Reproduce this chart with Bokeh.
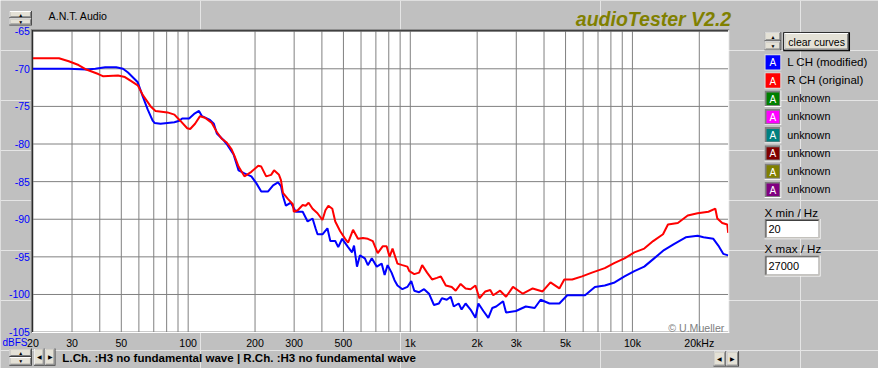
import math
from bokeh.plotting import figure
from bokeh.models import Label, BoxAnnotation, Range1d, LogScale
from bokeh.core.properties import value
from bokeh.embed import file_html
from bokeh.resources import INLINE

FONT = "Liberation Sans"

# ---------------- data ----------------
freq_l = [20, 29, 34.8, 38.2, 42.3, 47.4, 50.9, 53.6, 57.5, 59.3, 62.5, 65.7, 69.2, 70.6, 75.1,
          86.7, 91.2, 94, 101, 106.3, 111.9, 115.4, 125.3, 130.5, 134.6, 144.5, 149.1, 160.1,
          168.6, 179.2, 192.5, 202.6, 213.3, 229.1, 241.2, 253.8, 261.7, 267.1, 275.4, 289.9,
          305.1, 327.8, 345, 363.1, 374.4, 382.2, 402.3, 423.5, 436.5, 459.4, 473.8, 493.5,
          524.8, 546.8, 558.1, 575.4, 593.3, 624.6, 644.1, 671, 706.2, 743.3, 766.5, 790.4,
          823.5, 849, 875.5, 921.2, 969.8, 1010, 1042, 1096, 1154, 1214, 1278, 1345, 1388,
          1460, 1521, 1569, 1651, 1702, 1774, 1867, 1965, 2026, 2133, 2245, 2338, 2436, 2617,
          2698, 2990, 3311, 3631, 3861, 4233, 4690, 5090, 5524, 6120, 6778, 7509, 8318, 9213,
          10205, 11306, 12524, 13874, 15373, 17378, 19652, 20893, 23141, 24359, 25631, 26990]
db_l = [-70.0, -70.0, -70.1, -70.0, -69.8, -69.8, -70.0, -70.5, -71.4, -71.8, -73.7, -75.4, -76.9,
        -77.2, -77.3, -77.1, -76.9, -76.6, -76.6, -76.0, -75.6, -76.3, -76.8, -77.3, -78.6, -79.5,
        -80.0, -81.4, -83.5, -83.9, -84.3, -85.2, -86.3, -86.3, -85.5, -85.1, -85.6, -86.9, -88.2,
        -87.8, -89.0, -89.0, -90.3, -89.9, -91.2, -92.0, -92.0, -91.2, -92.9, -92.9, -93.7, -92.6,
        -93.7, -94.4, -93.5, -96.3, -94.8, -95.2, -96.1, -95.2, -96.3, -95.9, -97.4, -96.1, -97.1,
        -98.1, -98.8, -99.3, -99.0, -98.2, -99.5, -99.7, -99.3, -99.9, -101.4, -101.2, -100.5,
        -100.7, -100.3, -101.6, -101.2, -102.0, -101.2, -102.0, -103.1, -101.2, -102.2, -103.1,
        -101.8, -101.6, -100.9, -102.4, -102.2, -101.6, -101.8, -100.7, -101.2, -101.2, -100.1,
        -100.1, -100.1, -99.0, -98.8, -98.4, -97.6, -96.9, -96.3, -95.2, -94.1, -93.3, -92.4,
        -92.2, -92.4, -92.6, -93.5, -94.6, -94.8]

freq_r = [20, 26.2, 29, 32.1, 34.8, 39.4, 41.5, 48.3, 51.9, 55.2, 59.3, 62.5, 67.8, 71.3, 80.7,
          86.7, 92.1, 99, 102.1, 107.4, 113.1, 119, 127.8, 134.6, 141.6, 149.1, 156.9, 161.8,
          168.6, 179.2, 192.5, 206.8, 213.3, 224.4, 236.3, 243.6, 256.4, 261.7, 267.1, 281.1,
          295.9, 298.9, 311.4, 327.8, 338, 348.5, 363.1, 382.2, 402.3, 414.9, 427.8, 445.6,
          459.4, 483.5, 508.9, 524.8, 552.4, 581.3, 612, 644.1, 677.9, 713.5, 751, 782.4, 806.7,
          831.8, 875.5, 921.2, 969.8, 990, 1042, 1096, 1131, 1190, 1253, 1318, 1373, 1445, 1537,
          1601, 1685, 1774, 1867, 1965, 2047, 2177, 2291, 2362, 2537, 2698, 2899, 3211, 3557,
          3940, 4276, 4690, 4935, 5357, 5934, 6573, 7509, 8318, 9213, 10205, 11306, 12397,
          13733, 14454, 16013, 17738, 19652, 21989, 23621, 24111, 25370, 26716, 26990]
db_r = [-68.6, -68.6, -69.0, -69.5, -70.1, -70.7, -71.0, -70.9, -71.1, -71.6, -72.2, -73.5, -75.0,
        -75.6, -75.8, -76.1, -76.9, -77.9, -78.0, -77.3, -76.3, -76.5, -77.2, -78.4, -79.3, -79.8,
        -80.7, -81.6, -83.0, -84.3, -83.7, -82.9, -83.0, -84.3, -84.1, -83.5, -84.1, -84.8, -86.5,
        -87.3, -88.0, -89.0, -88.8, -88.1, -88.2, -87.8, -88.6, -89.2, -90.1, -88.8, -88.2, -88.6,
        -90.3, -91.6, -92.6, -93.1, -91.4, -92.6, -92.5, -92.6, -92.9, -94.5, -93.6, -93.6, -95.0,
        -93.9, -95.9, -96.1, -96.3, -96.9, -97.3, -97.1, -96.1, -97.1, -98.0, -97.8, -97.6, -98.8,
        -99.0, -99.5, -98.6, -99.2, -99.3, -98.8, -100.5, -99.6, -99.4, -100.1, -99.5, -100.3,
        -99.0, -99.9, -99.2, -99.6, -98.4, -99.2, -98.0, -98.0, -97.6, -97.1, -96.5, -95.8, -95.2,
        -94.4, -93.9, -92.9, -92.0, -90.7, -90.5, -89.5, -89.2, -89.0, -88.6, -89.9, -90.5, -90.7,
        -91.8]

y_ticks = [-105, -100, -95, -90, -85, -80, -75, -70, -65]
x_major = [20, 30, 50, 100, 200, 300, 500, 1000, 2000, 3000, 5000, 10000, 20000]
x_major_labels = ["20", "30", "50", "100", "200", "300", "500", "1k", "2k", "3k", "5k", "10k", "20kHz"]
x_grid = [20, 30, 40, 50, 60, 70, 80, 90, 100, 200, 300, 400, 500, 600, 700, 800, 900,
          1000, 2000, 3000, 4000, 5000, 6000, 7000, 8000, 9000, 10000, 20000]
x_min_hz, x_max_hz = 20, 27000
y_min_db, y_max_db = -105, -65

legend_names = ["L CH (modified)", "R CH (original)", "unknown", "unknown",
                "unknown", "unknown", "unknown", "unknown"]
legend_colors = ["#0000FF", "#FF0000", "#008000", "#FF00FF",
                 "#008080", "#800000", "#808000", "#800080"]
status_text = "L.Ch. :H3 no fundamental wave | R.Ch. :H3 no fundamental wave"

# ---------------- layout geometry ----------------
W, H = 878, 368
REF_W, REF_H = 894, 384
SX, SY = W / REF_W, H / REF_H      # reference-pixel -> canvas-pixel


def cx(px):
    return px * SX


def cy(py):
    return py * SY


PL, PT, PR, PB = cx(33), cy(32), cx(741), cy(346)   # plot area

p = figure(width=W, height=H, x_range=Range1d(0, W), y_range=Range1d(H, 0),
           x_axis_location=None, y_axis_location=None, min_border=0,
           min_border_left=0, min_border_right=0, min_border_top=0, min_border_bottom=0,
           output_backend="svg", toolbar_location=None, title=None)
p.outline_line_color = None
p.background_fill_color = "#C0C0C0"
p.border_fill_color = "#C0C0C0"

# log-frequency / dB scales mapped onto the plot area
dec = (PR - PL) / math.log10(x_max_hz / x_min_hz)
f_lo = x_min_hz * 10 ** (-PL / dec)
f_hi = x_max_hz * 10 ** ((W - PR) / dec)
dbpx = (y_max_db - y_min_db) / (PB - PT)
db_lo = y_min_db - (H - PB) * dbpx
db_hi = y_max_db + PT * dbpx
p.extra_x_ranges = {"f": Range1d(f_lo, f_hi)}
p.extra_x_scales = {"f": LogScale()}
p.extra_y_ranges = {"db": Range1d(db_lo, db_hi)}


def text(px, py, s, size="10.6px", color="black", align="left", baseline="middle", style="normal"):
    p.add_layout(Label(x=cx(px), y=cy(py), text=s,
                       text_font=FONT, text_font_size=size, text_color=color,
                       text_align=align, text_baseline=baseline, text_font_style=style))


def box(x0, y0, x1, y1, fill, level="annotation"):
    p.add_layout(BoxAnnotation(left=cx(x0), right=cx(x1), top=cy(y0), bottom=cy(y1),
                               fill_color=fill, fill_alpha=1.0, line_alpha=0.0,
                               level=level))


FACE = "#E4E1D6"


def button(x0, y0, x1, y1):
    box(x0, y0, x1, y1, "#404040")
    box(x0, y0, x1 - 1, y1 - 1, "white")
    box(x0 + 1, y0 + 1, x1 - 1, y1 - 1, "#808080")
    box(x0 + 1, y0 + 1, x1 - 2, y1 - 2, FACE)


def field(x0, y0, x1, y1):
    box(x0, y0, x1, y1, "white")
    box(x0, y0, x1 - 1, y1 - 1, "#808080")
    box(x0 + 1, y0 + 1, x1 - 1, y1 - 1, "#D4D0C8")
    box(x0 + 1, y0 + 1, x1 - 2, y1 - 2, "#404040")
    box(x0 + 2, y0 + 2, x1 - 2, y1 - 2, "white")


def spinner(x0, y0, x1, y1):
    ym = (y0 + y1) / 2
    button(x0, y0, x1, ym)
    button(x0, ym, x1, y1)
    xm = (x0 + x1) / 2
    text(xm, (y0 + ym) / 2, "\u25b2", size="5px", align="center")
    text(xm, (ym + y1) / 2, "\u25bc", size="5px", align="center")


# plot area background
p.add_layout(BoxAnnotation(left=PL, right=PR, top=PT, bottom=PB, fill_color="white",
                           fill_alpha=1.0, line_alpha=0.0, level="underlay"))

# grid through the scales
GRID = "#808080"
p.segment(x0=x_grid, y0=[y_min_db] * len(x_grid), x1=x_grid, y1=[y_max_db] * len(x_grid),
          line_color=GRID, line_width=1, x_range_name="f", y_range_name="db")
p.segment(x0=[x_min_hz] * len(y_ticks), y0=y_ticks, x1=[x_max_hz] * len(y_ticks), y1=y_ticks,
          line_color=GRID, line_width=1, x_range_name="f", y_range_name="db")

# curves
p.line(freq_l, db_l, line_color="#0000FF", line_width=2, x_range_name="f", y_range_name="db")
p.line(freq_r, db_r, line_color="#FF0000", line_width=2, x_range_name="f", y_range_name="db")

# tick labels
p.text(x=[x_min_hz] * len(y_ticks), y=y_ticks, text=[str(t) for t in y_ticks],
       x_offset=-3, text_align="right", text_baseline="middle",
       text_font=value(FONT), text_font_size=value("10.5px"), text_color="#0000FF",
       x_range_name="f", y_range_name="db")
p.text(x=x_major, y=[y_min_db] * len(x_major), text=x_major_labels,
       y_offset=10.5, text_align="center", text_baseline="middle",
       text_font=value(FONT), text_font_size=value("10.6px"), text_color="black",
       x_range_name="f", y_range_name="db")

# frame 3D border
box(31, 30, 742, 31, "#808080")
box(31, 30, 32, 347, "#808080")
box(32, 31, 741, 32, "#202020")
box(32, 31, 33, 346, "#202020")
box(741, 31, 742, 347, "white")
box(32, 346, 742, 347, "white")

# top
spinner(9, 11, 32, 26)
text(49, 16.5, "A.N.T. Audio", baseline="alphabetic")
text(744, 19.5, "audioTester V2.2", size="19.5px", color="#808000", align="right",
     baseline="alphabetic", style="bold italic")

# axis unit label
text(2, 357, "dBFS", size="10px", color="#0000FF")

# copyright
text(737, 342, "\u00a9 U.Mueller", color="#808080", align="right", baseline="alphabetic")

# right panel
spinner(778, 33, 795, 52)
box(797, 33, 865, 53, "black")
button(798, 34, 864, 52)
text(831, 43, "clear curves", size="10.5px", align="center")
for k, (name, col) in enumerate(zip(legend_names, legend_colors)):
    y0 = 56 + 19 * k
    if k < 2:
        box(778, y0, 795, y0 + 17, "#E0E0E0")
        box(779, y0 + 1, 794, y0 + 16, col)
    else:
        box(778, y0, 795, y0 + 17, "white")
        box(778, y0, 794, y0 + 16, "#808080")
        box(780, y0 + 2, 793, y0 + 15, col)
    text(786.5, y0 + 9, "A", size="10px", color="white", align="center")
    text(801, y0 + 8, name, size="11.5px" if k < 2 else "10.8px")

text(778, 221, "X min / Hz", size="11.6px")
field(778, 228, 835, 249)
text(782, 238.5, str(x_min_hz), size="11px")
text(778, 259, "X max / Hz", size="11.6px")
field(778, 266, 835, 288)
text(782, 277, str(x_max_hz), size="11px")

# bottom row
spinner(9, 363, 32, 381)
button(34, 363, 45, 381)
button(45, 363, 56, 381)
text(39.5, 372, "\u25c0", size="6px", align="center")
text(50.5, 372, "\u25b6", size="6px", align="center")
text(63, 373.5, status_text, size="11.55px", style="bold")
button(726, 366, 739, 382)
button(739, 366, 752, 382)
text(732.5, 374, "\u25c0", size="6px", align="center")
text(745.5, 374, "\u25b6", size="6px", align="center")

open("out.html", "w").write(file_html(p, INLINE))
